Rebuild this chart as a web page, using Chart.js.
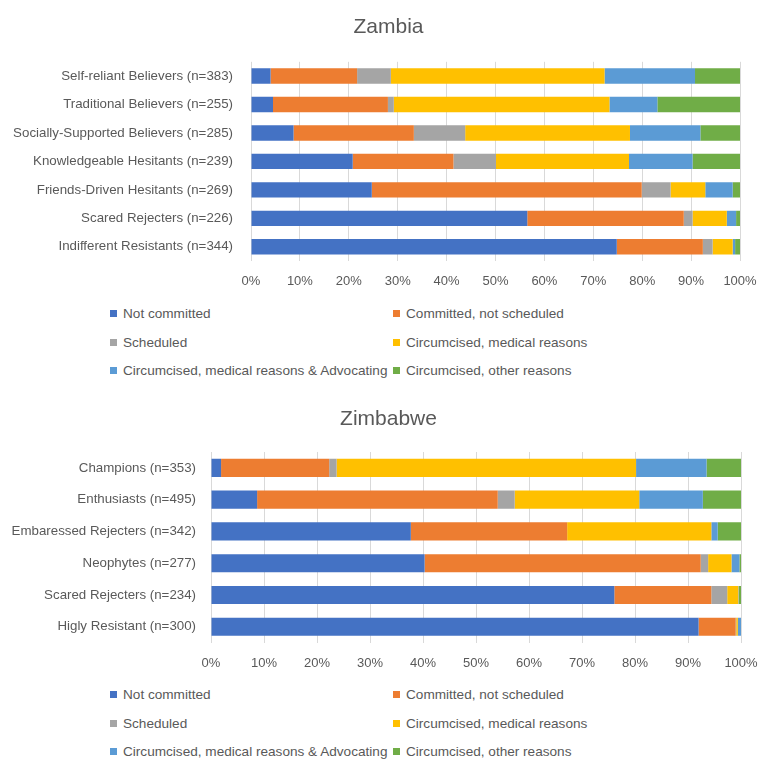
<!DOCTYPE html>
<html>
<head>
<meta charset="utf-8">
<script src="https://cdn.jsdelivr.net/npm/chart.js@4"></script>
<style>
  body { margin: 0; background: #fff; }
  #page { position: relative; width: 777px; height: 773px; overflow: hidden; font-family: "Liberation Sans", Arial, sans-serif; color: #595959; }
  .box { position: absolute; left: 0; width: 777px; height: 290px; }
  .legend { position: absolute; left: 0; width: 777px; font-size: 13.6px; }
  .item { position: absolute; height: 16px; line-height: 16px; white-space: nowrap; }
  .item i { position: absolute; left: 0; top: 4px; width: 7px; height: 7px; }
  .item span { position: absolute; left: 13px; top: 0; }
</style>
</head>
<body>
<div id="page">
  <div class="box" style="top:0"><canvas id="zambiaChart"></canvas></div>
  <div class="legend" id="zambiaLegend" style="top:306px"></div>
  <div class="box" style="top:390px"><canvas id="zimbabweChart"></canvas></div>
  <div class="legend" id="zimbabweLegend" style="top:687px"></div>
</div>
<script>
const seriesNames = ["Not committed", "Committed, not scheduled", "Scheduled", "Circumcised, medical reasons",
  "Circumcised, medical reasons & Advocating", "Circumcised, other reasons"];
const seriesColors = ["#4472C4", "#ED7D31", "#A5A5A5", "#FFC000", "#5B9BD5", "#70AD47"];
const percentTicks = [0, 10, 20, 30, 40, 50, 60, 70, 80, 90, 100];

// Zambia
const zambiaGroups = ["Self-reliant Believers (n=383)", "Traditional Believers (n=255)", "Socially-Supported Believers (n=285)",
  "Knowledgeable Hesitants (n=239)", "Friends-Driven Hesitants (n=269)", "Scared Rejecters (n=226)", "Indifferent Resistants (n=344)"];
const zambiaNotCommitted = [4.0, 4.5, 8.7, 20.8, 24.7, 56.5, 74.8];
const zambiaCommitted = [17.7, 23.5, 24.6, 20.6, 55.2, 32.0, 17.6];
const zambiaScheduled = [6.9, 1.2, 10.5, 8.7, 5.9, 1.8, 2.0];
const zambiaMedical = [43.7, 44.1, 33.7, 27.2, 7.1, 7.0, 4.1];
const zambiaAdvocating = [18.5, 9.8, 14.4, 13.0, 5.6, 1.9, 0.5];
const zambiaOther = [9.2, 16.9, 8.1, 9.7, 1.5, 0.8, 1.0];

// Zimbabwe
const zimbabweGroups = ["Champions (n=353)", "Enthusiasts (n=495)", "Embaressed Rejecters (n=342)",
  "Neophytes (n=277)", "Scared Rejecters (n=234)", "Higly Resistant (n=300)"];
const zimbabweNotCommitted = [1.9, 8.7, 37.7, 40.3, 76.1, 92.0];
const zimbabweCommitted = [20.4, 45.4, 29.5, 52.1, 18.3, 7.0];
const zimbabweScheduled = [1.4, 3.2, 0, 1.4, 3.0, 0.1];
const zimbabweMedical = [56.5, 23.5, 27.2, 4.4, 2.1, 0.3];
const zimbabweAdvocating = [13.3, 12.0, 1.2, 1.5, 0.1, 0.6];
const zimbabweOther = [6.5, 7.2, 4.4, 0.3, 0.4, 0];

const FONT = "'Liberation Sans', Arial, sans-serif";
const GREY = "#595959";

function makeChart(id, title, groups, series, o) {
  new Chart(document.getElementById(id), {
    type: "bar",
    data: {
      labels: groups,
      datasets: series.map((vals, i) => ({
        label: seriesNames[i],
        data: vals,
        yAxisID: "y",
        backgroundColor: seriesColors[i],
        borderWidth: 0,
        categoryPercentage: 1,
        barPercentage: o.bar
      }))
    },
    options: {
      indexAxis: "y",
      responsive: true,
      maintainAspectRatio: false,
      animation: false,
      layout: { padding: 0 },
      plugins: {
        legend: { display: false },
        tooltip: { enabled: false },
        title: {
          display: true,
          text: title,
          color: GREY,
          font: { family: FONT, size: 21, weight: "normal" },
          padding: { top: o.titleTop, bottom: o.titleBottom }
        }
      },
      scales: {
        x: {
          stacked: true,
          min: 0,
          max: 100,
          afterBuildTicks: (axis) => { axis.ticks = percentTicks.map((v) => ({ value: v })); },
          afterFit: (axis) => { axis.height = o.xHeight; },
          border: { display: false },
          grid: { color: "#D9D9D9", drawTicks: false },
          ticks: {
            color: GREY,
            padding: 13,
            font: { family: FONT, size: 13 },
            callback: (v) => v + "%"
          }
        },
        y: {
          stacked: true,
          afterFit: (axis) => { axis.width = o.yWidth; },
          border: { display: false },
          grid: { display: false, drawTicks: false },
          ticks: {
            color: GREY,
            padding: o.yPad,
            font: { family: FONT, size: 13.3 }
          }
        },
        // empty right-hand margin so the title centres like the original
        yRight: {
          type: "category",
          position: "right",
          afterFit: (axis) => { axis.width = o.rightGap; },
          border: { display: false },
          grid: { display: false, drawTicks: false },
          ticks: { display: false }
        }
      }
    }
  });
}

function makeLegend(id) {
  const el = document.getElementById(id);
  seriesNames.forEach((name, i) => {
    const item = document.createElement("div");
    item.className = "item";
    item.style.left = (i % 2 === 0 ? 110 : 393) + "px";
    item.style.top = Math.floor(i / 2) * 28.5 + "px";
    item.innerHTML = '<i style="background:' + seriesColors[i] + '"></i><span></span>';
    item.querySelector("span").textContent = name;
    el.appendChild(item);
  });
}

makeChart("zambiaChart", "Zambia", zambiaGroups,
  [zambiaNotCommitted, zambiaCommitted, zambiaScheduled, zambiaMedical, zambiaAdvocating, zambiaOther],
  { bar: 0.54, yWidth: 251, yPad: 18, rightGap: 37, titleTop: 15, titleBottom: 21.6, xHeight: 29 });

makeChart("zimbabweChart", "Zimbabwe", zimbabweGroups,
  [zimbabweNotCommitted, zimbabweCommitted, zimbabweScheduled, zimbabweMedical, zimbabweAdvocating, zimbabweOther],
  { bar: 0.57, yWidth: 211, yPad: 15, rightGap: 36, titleTop: 16.5, titleBottom: 20.3, xHeight: 37.4 });

makeLegend("zambiaLegend");
makeLegend("zimbabweLegend");
</script>
</body>
</html>
